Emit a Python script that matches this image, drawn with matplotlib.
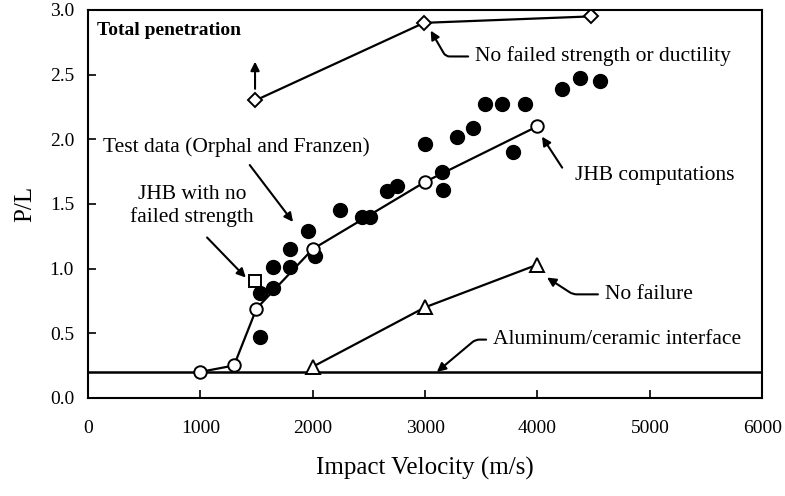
import numpy as np
import matplotlib
matplotlib.use("Agg")
import matplotlib.pyplot as plt

plt.rcParams['font.family'] = ['Liberation Serif', 'DejaVu Serif']

# test data (Orphal and Franzen)
test_v = [1530, 1530, 1650, 1650, 1800, 1800, 1960, 2020, 2245, 2440, 2510, 2660, 2750,
          3000, 3150, 3160, 3285, 3430, 3535, 3685, 3890, 3785, 4220, 4380, 4560]
test_pl = [0.47, 0.81, 0.85, 1.01, 1.01, 1.15, 1.29, 1.10, 1.45, 1.40, 1.40, 1.60, 1.64,
           1.96, 1.75, 1.61, 2.02, 2.09, 2.27, 2.27, 2.27, 1.90, 2.39, 2.47, 2.45]

# JHB computations
jhb_v = [1000, 1300, 1500, 2000, 3000, 4000]
jhb_pl = [0.20, 0.25, 0.69, 1.15, 1.67, 2.10]

# JHB with no failed strength
nofs_v = [1490]
nofs_pl = [0.90]

# no failure
nofail_v = [2000, 3000, 4000]
nofail_pl = [0.24, 0.70, 1.03]

# no failed strength or ductility
nofsd_v = [1490, 2990, 4480]
nofsd_pl = [2.30, 2.90, 2.95]

interface = 0.2

fig = plt.figure(figsize=(7.85, 4.96), dpi=100)
ax = fig.add_axes([0.112, 0.198, 0.859, 0.782])

ax.axhline(interface, color='black', lw=1.8, zorder=1)
ax.plot(jhb_v, jhb_pl, '-o', color='black', lw=1.6, ms=9, mfc='white', mec='black', mew=1.4, zorder=4)
ax.plot(test_v, test_pl, 'o', color='black', ms=10, zorder=3)
ax.plot(nofs_v, nofs_pl, 's', ms=9, mfc='white', mec='black', mew=1.4, zorder=2)
ax.plot(nofail_v, nofail_pl, '-^', color='black', lw=1.6, ms=10, mfc='white', mec='black', mew=1.4)
ax.plot(nofsd_v, nofsd_pl, '-D', color='black', lw=1.6, ms=7, mfc='white', mec='black', mew=1.4)

ax.set_xlim(0, 6000)
ax.set_ylim(0, 3.0)
ax.set_xticks(np.arange(0, 6001, 1000))
ax.set_yticks(np.arange(0, 3.01, 0.5))
ax.set_yticklabels([f'{t:.1f}' for t in np.arange(0, 3.01, 0.5)])
ax.tick_params(direction='in', length=6, width=1.2, labelsize=14)
ax.tick_params(axis='x', pad=16)
ax.tick_params(axis='y', pad=10)
for s in ax.spines.values():
    s.set_linewidth(1.5)

ax.set_xlabel('Impact Velocity (m/s)', fontsize=18, labelpad=14)
ax.set_ylabel('P/L', fontsize=18, labelpad=10)

arr = dict(arrowstyle='-|>', color='black', lw=1.5, mutation_scale=13, shrinkA=0, shrinkB=0)
fs = 15.5

ax.text(80, 2.84, 'Total penetration', fontsize=14, fontweight='bold', va='center')
ax.annotate('', xy=(1487, 2.6), xytext=(1487, 2.39), arrowprops=arr)

ax.annotate('No failed strength or ductility', xy=(3050, 2.84), xytext=(3445, 2.64),
            fontsize=fs, va='center', ha='left',
            arrowprops=dict(arr, relpos=(0, 0.5), shrinkA=3,
                            connectionstyle='angle,angleA=0,angleB=-60,rad=4'))

ax.text(134, 1.94, 'Test data (Orphal and Franzen)', fontsize=fs, va='center')
ax.annotate('', xy=(1825, 1.36), xytext=(1440, 1.80), arrowprops=arr)

ax.text(925, 1.48, 'JHB with no\nfailed strength', fontsize=fs, va='center', ha='center',
        linespacing=1.2)
ax.annotate('', xy=(1405, 0.93), xytext=(1060, 1.24), arrowprops=arr)

ax.text(4335, 1.72, 'JHB computations', fontsize=fs, va='center')
ax.annotate('', xy=(4040, 2.02), xytext=(4220, 1.78), arrowprops=arr)

ax.annotate('No failure', xy=(4085, 0.93), xytext=(4600, 0.80),
            fontsize=fs, va='center', ha='left',
            arrowprops=dict(arr, relpos=(0, 0.5), shrinkA=3,
                            connectionstyle='angle,angleA=0,angleB=-33,rad=4'))

ax.annotate('Aluminum/ceramic interface', xy=(3105, 0.2), xytext=(3605, 0.45),
            fontsize=fs, va='center', ha='left',
            arrowprops=dict(arr, relpos=(0, 0.5), shrinkA=3,
                            connectionstyle='angle,angleA=0,angleB=40,rad=4'))

fig.savefig('out.png', dpi=100)
